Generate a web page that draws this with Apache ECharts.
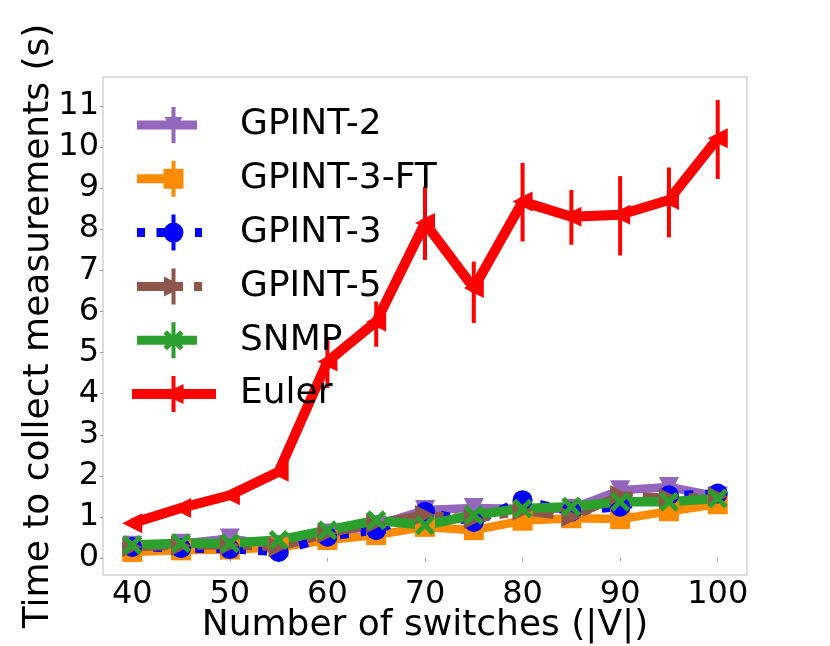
<!DOCTYPE html>
<html>
<head>
    <meta charset="utf-8">
    <title>Time to collect measurements</title>
    <script src="https://cdn.jsdelivr.net/npm/echarts@6/dist/echarts.min.js"></script>
    <style>
        html, body { margin: 0; padding: 0; background: #fff; }
        #chart { width: 830px; height: 646px; }
    </style>
</head>
<body>
<div id="chart"></div>
<script>
    // number of switches
    var switches = [40, 45, 50, 55, 60, 65, 70, 75, 80, 85, 90, 95, 100];

    // mean time (s) per approach
    var gpint2   = [0.30, 0.35, 0.48, 0.29, 0.60, 0.80, 1.17, 1.22, 1.20, 1.20, 1.65, 1.73, 1.50];
    var gpint3ft = [0.15, 0.19, 0.21, 0.26, 0.44, 0.56, 0.76, 0.68, 0.91, 0.97, 0.95, 1.14, 1.31];
    var gpint3   = [0.27, 0.24, 0.22, 0.15, 0.52, 0.68, 1.13, 0.88, 1.41, 1.13, 1.25, 1.53, 1.57];
    var gpint5   = [0.27, 0.30, 0.32, 0.27, 0.60, 0.85, 1.05, 0.95, 1.15, 1.00, 1.53, 1.46, 1.50];
    var snmp     = [0.32, 0.36, 0.36, 0.44, 0.68, 0.92, 0.80, 1.05, 1.21, 1.25, 1.37, 1.37, 1.45];
    var euler    = [0.85, 1.22, 1.53, 2.10, 4.78, 5.75, 8.15, 6.57, 8.67, 8.30, 8.35, 8.71, 10.21];

    // Euler error bar ends
    var eulerLow  = [0.80, 1.17, 1.47, 2.03, 4.14, 5.14, 7.25, 5.72, 7.70, 7.62, 7.36, 7.80, 9.22];
    var eulerHigh = [0.90, 1.27, 1.59, 2.17, 5.30, 6.24, 9.03, 7.21, 9.61, 8.95, 9.29, 9.50, 11.14];

    var FONT = 'DejaVu Sans';

    // filled "X" marker
    var X_MARK = 'path://M0,3.5L3.5,0L10,6.5L16.5,0L20,3.5L13.5,10L20,16.5L16.5,20L10,13.5L3.5,20L0,16.5L6.5,10Z';

    // legend handles: thick line + marker + thin vertical error bar (box 84x36)
    var BOX = 'M0,0 M84,36 ';
    var BAR = 'M39.5,0H43.5V36H39.5Z ';
    var ICONS = {
        'GPINT-2': BOX + 'M5,13.5H65V22.5H5Z ' + BAR + 'M32.5,10H50.5L41.5,26Z',
        'GPINT-3-FT': BOX + 'M5,13.5H40V22.5H5Z ' + BAR + 'M31.5,8H51.5V28H31.5Z',
        'GPINT-3': BOX + 'M5,13.5H13V22.5H5Z M24.5,13.5H33V22.5H24.5Z M63,13.5H70V22.5H63Z ' + BAR +
            'M31.5,18A10,10 0 1,1 51.5,18A10,10 0 1,1 31.5,18Z',
        'GPINT-5': BOX + 'M5,13.5H51V22.5H5Z M62,13.5H70V22.5H62Z ' + BAR + 'M32,8L51.5,18L32,28Z',
        'SNMP': BOX + 'M5,13.5H65V22.5H5Z ' + BAR +
            'M31.5,11.5L35,8L41.5,14.5L48,8L51.5,11.5L45,18L51.5,24.5L48,28L41.5,21.5L35,28L31.5,24.5L38,18Z',
        'Euler': BOX + 'M0,13H84V23H0Z ' + BAR + 'M51.5,8V28L31.5,18Z'
    };

    function pairs(ys) {
        var out = [];
        for (var i = 0; i < switches.length; i++) {
            out.push([switches[i], ys[i]]);
        }
        return out;
    }

    var errData = [];
    for (var i = 0; i < switches.length; i++) {
        errData.push([switches[i], eulerLow[i], eulerHigh[i]]);
    }

    function lineSeries(name, ys, color, symbol, rotate, width, dash) {
        return {
            name: name,
            type: 'line',
            data: pairs(ys),
            symbol: symbol,
            symbolSize: 20,
            symbolRotate: rotate,
            showAllSymbol: true,
            itemStyle: {color: color, borderWidth: 0},
            lineStyle: {color: color, width: width, type: dash, cap: 'butt', join: 'round'},
            emphasis: {disabled: true}
        };
    }

    var names = ['GPINT-2', 'GPINT-3-FT', 'GPINT-3', 'GPINT-5', 'SNMP', 'Euler'];
    var legendData = [];
    for (var k = 0; k < names.length; k++) {
        legendData.push({name: names[k], icon: 'path://' + ICONS[names[k]]});
    }

    var chart = echarts.init(document.getElementById('chart'));
    chart.setOption({
        animation: false,
        backgroundColor: '#fff',
        textStyle: {fontFamily: FONT},
        grid: {
            left: 103, right: 83, top: 77, bottom: 71,
            outerBoundsMode: 'none',
            containLabel: false,
            show: true, borderColor: '#bdbdbd', borderWidth: 1,
            backgroundColor: 'transparent'
        },
        legend: {
            data: legendData,
            orient: 'vertical',
            left: 132,
            top: 107,
            padding: 0,
            itemWidth: 84,
            itemHeight: 36,
            itemGap: 17.8,
            selectedMode: false,
            itemStyle: {borderWidth: 0},
            textStyle: {
                fontFamily: FONT, fontSize: 36, color: '#000',
                lineHeight: 36, padding: [0, 0, 0, 19]
            }
        },
        xAxis: {
            type: 'value',
            min: 37, max: 103,
            minInterval: 10, maxInterval: 10,
            name: 'Number of switches (|V|)',
            nameLocation: 'middle',
            nameGap: 33,
            nameMoveOverlap: false,
            nameTextStyle: {fontFamily: FONT, fontSize: 36, color: '#000'},
            axisLine: {show: false},
            axisTick: {show: true, length: 3, lineStyle: {color: '#999'}},
            splitLine: {show: false},
            axisLabel: {
                fontFamily: FONT, fontSize: 32, color: '#000', margin: 4,
                showMinLabel: false, showMaxLabel: false,
                formatter: function (v) { return v % 10 === 0 ? String(v) : ''; }
            }
        },
        yAxis: {
            type: 'value',
            min: -0.41, max: 11.7,
            minInterval: 1, maxInterval: 1,
            name: 'Time to collect measurements (s)',
            nameLocation: 'middle',
            nameGap: 46,
            nameMoveOverlap: false,
            nameTextStyle: {fontFamily: FONT, fontSize: 36, color: '#000'},
            axisLine: {show: false},
            axisTick: {show: true, length: 3, lineStyle: {color: '#999'}},
            splitLine: {show: false},
            axisLabel: {
                fontFamily: FONT, fontSize: 32, color: '#000', margin: 4,
                showMinLabel: false, showMaxLabel: false,
                formatter: function (v) { return Math.abs(v - Math.round(v)) < 1e-6 ? String(Math.round(v)) : ''; }
            }
        },
        series: [
            lineSeries('GPINT-2', gpint2, '#9467bd', 'triangle', 180, 8.5, 'solid'),
            lineSeries('GPINT-3-FT', gpint3ft, '#ff8c00', 'rect', 0, 8.5, 'solid'),
            lineSeries('GPINT-3', gpint3, '#0000ff', 'circle', 0, 8.5, [9, 12]),
            lineSeries('GPINT-5', gpint5, '#8c564b', 'triangle', -90, 8.5, [36, 10, 9, 10]),
            lineSeries('SNMP', snmp, '#2ca02c', X_MARK, 0, 9.5, 'solid'),
            {
                name: 'Euler-err',
                type: 'custom',
                data: errData,
                encode: {x: 0, y: [1, 2]},
                renderItem: function (params, api) {
                    var lo = api.coord([api.value(0), api.value(1)]);
                    var hi = api.coord([api.value(0), api.value(2)]);
                    return {
                        type: 'line',
                        shape: {x1: lo[0], y1: lo[1], x2: hi[0], y2: hi[1]},
                        style: {stroke: '#ff0000', lineWidth: 4}
                    };
                },
                silent: true
            },
            lineSeries('Euler', euler, '#ff0000', 'triangle', 90, 10, 'solid')
        ]
    });
</script>
</body>
</html>
